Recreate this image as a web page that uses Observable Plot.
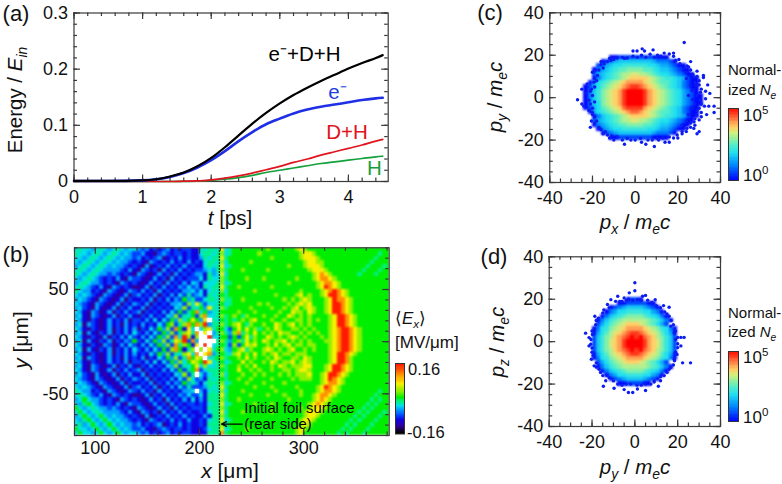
<!DOCTYPE html>
<html><head><meta charset="utf-8">
<script src="https://cdn.jsdelivr.net/npm/d3@7"></script>
<script src="https://cdn.jsdelivr.net/npm/@observablehq/plot@0.6"></script>
<style>
html,body{margin:0;padding:0;background:#fff}
#c{position:relative;width:782px;height:484px;overflow:hidden;font-family:"Liberation Sans",Arial,sans-serif;color:#111}
#c>div.p{position:absolute}
.t{position:absolute;transform:translate(-50%,-50%);white-space:nowrap;line-height:1}
.l{position:absolute;transform:translate(0,-50%);white-space:nowrap;line-height:1}
.r{transform:translate(-50%,-50%) rotate(-90deg)}
sub,sup{font-size:68%;line-height:0}
</style></head><body><div id="c"></div>
<script>
// ---------- panel (a)
const tValues = [0,0.5,1,1.2,1.4,1.6,1.8,2,2.2,2.4,2.6,2.8,3,3.2,3.4,3.6,3.8,4,4.2,4.4,4.5];
const energyAll  = [0.001,0.001,0.002,0.004,0.009,0.016,0.027,0.042,0.061,0.082,0.103,0.122,0.139,0.154,0.167,0.179,0.190,0.201,0.211,0.220,0.225];
const energyE    = [0.001,0.001,0.002,0.004,0.008,0.015,0.025,0.038,0.054,0.072,0.088,0.102,0.112,0.121,0.128,0.133,0.137,0.141,0.145,0.148,0.149];
const energyDH   = [0,0,0,0,0,0.0005,0.001,0.003,0.006,0.010,0.015,0.021,0.027,0.034,0.040,0.047,0.053,0.059,0.065,0.072,0.075];
const energyH    = [0,0,0,0,0,0.0003,0.0007,0.002,0.004,0.007,0.011,0.016,0.020,0.024,0.028,0.032,0.035,0.038,0.041,0.044,0.045];
const lineLabels = [
  {t:3.36,v:0.226,text:"e⁻+D+H",color:"#000"},
  {t:3.84,v:0.158,text:"e⁻",color:"#1f3fe0"},
  {t:3.98,v:0.087,text:"D+H",color:"#e0141e"},
  {t:4.38,v:0.023,text:"H",color:"#14a03c"}
];
// ---------- panel (b): field levels read cell by cell, 4 um cells, rows from y=88 to y=-88
const fieldLeft = [
"454434543454344 32312123121221 154554","544345434543432 23110232122121 145545","443454345434332 31212301213121 135455",
"434543454343321 21032121312131 214554","345434543433212 10301213121312 114545","454345433332131 03212031213121 223435",
"543454332321210 32101312031212 331534","434543212131032 21013120312122 241544","345433212103212 10131203121314 314445",
"454321310321210 01302131213242 315455","543312103210132 13120312121334 241454","434321032101302 31213021314252 341545",
"343210321013021 12130213132635 224554","432103210130213 21302121334274 852445","342103101302131 13021212143725 463854",
"431032013021312 30212131426256 946345","341032101302131 02131214372546 279445","431021013121302 21314142637468 638w54",
"340321013120312 13121426725796 97r355","431021013021313 02142637296184 w47846","340310213021314 21314263725785 9w8w35",
"431021030213142 13142637294r71 7wwr44","340310213021326 21426372587r29 3wwww5","431021032013142 13142637295761 8wrw45",
"340310213021314 21314262796157 w7w846","431021013021313 12142637254784 9w8935","340321013120312 13021426372596 87w456",
"431021013121302 21314142637468 76r845","341032101302131 02131214372546 847445","431032013021312 30212131426256 924555",
"342103101302131 13021212143725 w42455","432103210130213 21302121314274 231545","343210321013021 12130213132635 314555",
"434321032101302 31213021314252 223545","543312103210132 13120312121334 w31454","454321310321210 01302131213242 241555",
"346433212103212 10131203121314 131555","435643212131032 21013120312122 121455","643454332321210 32101312031212 221555",
"464345433332131 03212031213121 121455","346434643433212 10301213121312 113155","435643464343321 21032121312131 121455",
"453464346434332 31212301213121 121555","644346434643432 23110232122121 112455","464434643464344 32312123121221 111555"];
const fieldRight = [
"8456666666 6766666678 7666666666 6666666666 6","7456666667 6666666667 8876666666 6666666656 6","8566666666 6676666667 8887666666 6666666566 6",
"7466666766 6666666666 7887766666 6666665666 6","8456666666 6666667666 7888766666 6666656665 6","7566676666 6766666666 6788876666 6666566656 6",
"8466666666 6666666666 6678987666 6665666566 6","7566667666 7666666676 6678998766 6666666666 6","7456666666 6666667666 6667899876 6666666666 6",
"8566766666 6676666666 66678r9876 6666666666 6","7466666676 6666666667 6666789r98 7666666666 6","6566666666 6667666678 676678rr98 7666666666 6",
"7556676666 6666676767 8766678r99 8766666666 6","6456666667 6766667678 7866678rr9 8766666666 6","7566666766 6676676786 7876678rr9 8766666666 6",
"6666766676 6666766877 6876678rr9 8766666666 6","7567657666 7667668767 67666678rr 9876666666 6","6565676786 6676676677 67676678rr 9876666666 6",
"7567865766 7668767867 67666678rr 9876666666 6","6426868675 6768766776 767666789r r987666666 6","7537957686 7676877667 676766789r r987666666 6",
"6626268576 6876767876 766676789r r987666666 6","7536758676 8767786767 676667789r r987666666 6","6527268786 6768678677 677666789r r987666666 6",
"7436785766 7876767866 767666789r r987666666 6","6547867686 7678677677 76666678rr 9876666666 6","7566768676 6768766776 87666678rr 9766666666 6",
"6456686766 7687677867 87666678rr 9766666666 6","7566767686 6676876777 8866678rr9 8766666666 6","6566866767 6676677678 8766678rr9 8766666666 6",
"7466676676 7666767677 786678rr98 7666666666 6","6566766766 6676666767 776678r987 6666666666 6","7456667666 7666676666 6666789987 6666666666 6",
"8566666676 6676666676 66678r9876 6666666666 6","7466676666 6667666667 6667899876 6666666656 6","8566666766 6766676667 6678998766 6666666566 6",
"7566766666 6666667666 6678987666 6666665656 6","8456666676 6676666666 6789876666 6666656566 6","7566666666 6666666667 6788876666 6666565666 6",
"8466676666 6676666666 7888766666 6665656665 6","7566666666 6666666666 7887666666 6656566656 6","8456666666 6666666667 8876666666 6565666566 6",
"7566666666 6666666667 8766666666 5656665666 6","8456667666 6666666678 7666666665 6566656666 6","9566666666 6666666678 6666666656 5666566666 6"];
const fieldLevelChars = "0123456789r";
const fieldLevelValues = [-0.128,-0.102,-0.08,-0.054,-0.035,-0.019,0,0.032,0.064,0.106,0.15];
// ---------- panel (c): log-density levels 0..f, 2-unit cells, x from -24, rows from y=19 to y=-19
const gridC = [
"......00111111111000........","....012344444444322210......","...123455666666554332100....","..02345677888877654432100...",
"..13456789 9aa9987655432100..","..024 56789abbbba98766543100.",".0356789abccccba98776542100.","0135789abcdeedcba9876542100.",
"024689abceffffecba987653210.","024689abceffffecba9876532100","024689abceffffecba9876532100","024589abceffffecba9876532100",
"0135789abdeeeecba9876542100.",".0356789abcddcba98776542100.","..024 56789abbbba98766543100.","..13456789 9aa9987655432100..",
"..02345677888877654432100...","...023455666666554332100....","....012344444444322210......","......00111111110000........"];
const dotsC = [[23,26],[3.3,23],[-1,22],[0.9,22],[4.4,22],[8.4,22.5],[18,21],[26,17],[-27,-1],[-25,4],[-25,-3],[-24,-4],[-23,2],[-22.5,6.5],[-21,-14],[-20.5,-11],[-20,12],[-18.5,13],[-16,17],[-16,15.5],[-10,-20],[-5,-22],[5,-22],[9,-23],[0,-20],[14,-21],[16,-21],[18,-19],[37,-7],[35,2],[34,6],[32,9.5],[32,10.5],[37,-4],[34.5,-4],[32.5,-4],[33.5,-8],[30,-16],[29,-17],[27.5,-14.5],[30,-10.5],[28.7,-8],[30.6,-1.2],[33,-0.5],[30.6,2.6],[30,8],[29,12.5],[26,13],[24.3,15],[20.5,18],[16,20.6],[13.6,21],[10.5,20],[-3.7,18.7],[-8.4,18.7],[-11.4,17.5],[-14.5,16],[-17.6,10.5],[-19.3,7.3],[-21.7,-1.2],[-21.7,-6],[-20,-8],[-16,-15],[-13,-17.6],[-8.3,-18.4],[-3.7,-19.2],[2.5,-19.2],[10.5,-19.2],[19.7,-17.6],[24.3,-14.5],[27.6,-11.4],[30,-5],[26.7,3.4],[28.4,5.8],[27.6,9.7],[-19,-2],[-20,1],[-21,3],[-19,5],[-18,-11],[-19,-12],[-14,-16],[-11,-18],[6,-20],[13,-19],[16,-18.5],[22,-16],[26,-12],[29,-6],[28,-3],[31,-7],[29,1],[28,7],[24,12],[21,16],[18,19.5],[12,19.5],[7,20.5],[3,20],[-1,19.5],[-6,19],[-13,17],[-17,13],[-12,18.5],[-18,8],
[-20.5,4],[-21,-3],[-20,-5],[-19,9],[-15,14],[-10,18],[-5,18.5],[1,19],[5,19],[9,19],[14,19],[19,17.5],[23,14],[25,14.5],[27,11],[30,6],[31,4],[31,-3],[31,-9],[28,-10],[26,-14],[22,-17],[20,-19],[11,-20],[8,-20],[3,-21],[-2,-20],[-6,-20],[-12,-19],[-15,-17],[-17,-14],[-19,-9],[-20,-7],[24,-16],[28,-13],[33,3],[29,10],[24,9],[26,6],[25,1],[27,-1],[27,-5],[25,-8],[24,-11],[22,-13]];
// ---------- panel (d): same levels, x from -22, rows from y=21 to y=-21
const gridD = [
".........0110.........",".......001111100......",".....012344443210.....","....0235566665532 0....",
"...024567888876542 0...","..024678999999876420..","..135789abbba987531...",".025689abccccba986520.",
".03579abcdeedcba97530.",".14689bcdefefdcb98641.",".1468abceffffecba8641.",".1468abceffffecba8641.",".14689bcdefefdcb98641.",
".03579abcdeedcba97530.",".025689abccccba986520.","..135789abbba987531...","..024678999999876420..","...024567888876542 0...",
"....0235566665532 0....",".....012344443210.....",".......00111100......."];
const dotsD = [[0,27.8],[0,24],[-2.6,23],[-23,4],[26,-10],[22.3,-10],[23,2],[21.5,2],[21.5,-2],[18.4,-8.3],[19.7,-6],[-14.7,-21],[-9.7,-22],[-5,-22.6],[-3,-24],[-1,-24],[1.2,-22.3],[5,-23],[11,-21],[-13.6,-18.4],[12,-18.4],[16,12],[16,16.2],[13.4,17],[9.5,19.8],[5,21.8],[-8,21.4],[-5,20.6],[-12.8,17.5],[-18.7,12],[-18.3,8],[-20.6,-1.2],[-21.4,-2],[-19.8,3.4],[-21.4,1.9],[-20.3,-8.3],[-19,-11.4],[-16.7,-13],[-15,-16],[16.8,7.3],[18.4,4.2],[20,-2.8],[16.8,-12.2],[13.7,-16],[7.5,-20],[-2,-20],[-8,-20],[3.6,21.4],[1.2,19.8],[-11.2,19.8],[-9,19],[-14.5,15],[-17,11],[-20,5],[-20,-5],[-18,-10],[-12,-17],[-6,-20.5],[3,-20.5],[9,-18.5],[15,-14.5],[18,-11],[19,-5],[19,1],[18,8],[14,14],[10,17],[6,19.5],[-3,20],[-6,19],
[-4,19.5],[-1,19.5],[3,19.5],[8,18.5],[12,16],[15,13],[17,10],[19,5],[20,2],[20,-1],[18.5,-9],[16,-13],[12,-16.5],[9,-19],[5,-20],[1,-20.5],[-4,-20],[-10,-18.5],[-13,-16],[-16,-14.5],[-18,-12],[-19.5,-6.5],[-20,-3],[-20.5,1],[-19,6],[-18,10],[-15,13.5],[-12,16],[-7,19]];
const levelChars = "0123456789abcdef";
const levelLog10 = [0,0.5,0.9,1.3,1.6,1.85,2.1,2.4,2.7,3.0,3.3,3.6,3.95,4.3,4.6,5];
const colorbarFieldSteps = d3.range(-0.16,0.16,0.005);
const colorbarLogSteps = d3.range(0,5,0.1);

// colour maps
const fieldColor = {type:"linear",domain:[-0.16,0.16],clamp:true,interpolate:d3.scaleLinear()
  .domain([0,.1,.18,.25,.33,.39,.44,.5,.6,.7,.83,1])
  .range(["#000000","#300098","#1000e0","#0040ff","#00a0ff","#00e0e8","#00f090","#00ee00","#90f000","#f8f000","#ff9000","#ff0000"])};
const neColor = {type:"log",domain:[1,1e5],clamp:true,interpolate:d3.scaleLinear()
  .domain([0,.2,.37,.5,.56,.64,.72,.8,.88,.94,1])
  .range(["#0008ff","#0088ff","#20e0f0","#60f0c0","#90f0a0","#d0f080","#ffd068","#ff9850","#ff5830","#ff2810","#ff0000"])};

const axisCol="#3a3a3a", FS=18;
function frameMarks(o){
  const a=[];
  const [x0,x1]=o.xDom,[y0,y1]=o.yDom;
  const ux=(x1-x0)/o.w, uy=(y1-y0)/o.h;
  const sty={stroke:axisCol,strokeWidth:1.2};
  for(const [ticks,len] of [[o.xMinor,3.5],[o.xMajor,6.5]]){
    a.push(Plot.ruleX(ticks,{...sty,y1:()=>y0,y2:()=>y0+len*uy}));
    a.push(Plot.ruleX(ticks,{...sty,y1:()=>y1,y2:()=>y1-len*uy}));
  }
  for(const [ticks,len] of [[o.yMinor,3.5],[o.yMajor,6.5]]){
    a.push(Plot.ruleY(ticks,{...sty,x1:()=>x0,x2:()=>x0+len*ux}));
    a.push(Plot.ruleY(ticks,{...sty,x1:()=>x1,x2:()=>x1-len*ux}));
  }
  a.push(Plot.axisX({ticks:o.xMajor,tickSize:0,tickPadding:o.padX??9,label:null,fontSize:FS,fill:"#111",tickFormat:o.fmtX||(d=>String(d))}));
  a.push(Plot.axisY({ticks:o.yMajor,tickSize:0,tickPadding:o.padY??6,label:null,fontSize:FS,fill:"#111",tickFormat:o.fmtY||(d=>String(d))}));
  a.push(Plot.frame({stroke:axisCol,strokeWidth:1.2}));
  return a;
}
const C=document.getElementById("c");
function place(svg,l,t){const d=document.createElement("div");d.className="p";d.style.left=l+"px";d.style.top=t+"px";d.appendChild(svg);C.appendChild(d);}
const base={style:{background:"transparent",overflow:"visible",fontFamily:'"Liberation Sans",Arial,sans-serif'}};
function minor(a,b,s){return d3.range(a,b+s/2,s).map(v=>+v.toFixed(3));}

// (a)
const seriesA=[["all",energyAll,"#000",2.2],["e",energyE,"#1f2fe6",2.6],["dh",energyDH,"#e0141e",1.7],["h",energyH,"#14a03c",1.7]];
place(Plot.plot({...base,width:400,height:225,marginLeft:73.5,marginRight:12.3,marginTop:12.5,marginBottom:44,
  x:{domain:[0,4.58]},y:{domain:[0,0.3]},
  marks:[
    ...frameMarks({xDom:[0,4.58],yDom:[0,.3],w:314.2,h:168.5,xMajor:[0,1,2,3,4],xMinor:minor(0,4.4,.2),yMajor:[0,.1,.2,.3],yMinor:minor(0,.3,.02),fmtY:d=>d===0?"0":d.toFixed(1)}),
    ...seriesA.slice().reverse().map(s=>Plot.line(tValues.map((t,i)=>({t,v:s[1][i]})),{x:"t",y:"v",stroke:s[2],strokeWidth:s[3],curve:"monotone-x"})),
    Plot.text(lineLabels,{x:"t",y:"v",text:"text",fill:"color",fontSize:20.5})
  ]}),0,0);

// (b)
const rows=fieldLeft.map((s,i)=>(s+fieldRight[i]).replace(/ /g,""));
const fieldCells=rows.flatMap((s,k)=>Array.from(s,(ch,i)=>({x:80+4*i,y:88-4*k,ch})));
const fieldValued=fieldCells.filter(c=>c.ch!=="w").map(c=>({...c,v:fieldLevelValues[fieldLevelChars.indexOf(c.ch)]}));
const fieldWhite=fieldCells.filter(c=>c.ch==="w");
const rectOpts={x1:"x",x2:d=>d.x+4,y1:d=>d.y-2,y2:d=>d.y+2,clip:"frame",shapeRendering:"crispEdges"};
place(Plot.plot({...base,width:400,height:239,marginLeft:74,marginRight:11.3,marginTop:17.3,marginBottom:34,
  x:{domain:[80,382]},y:{domain:[-90,90]},color:fieldColor,
  marks:[
    Plot.rect(fieldValued,{...rectOpts,fill:"v",imageFilter:"blur(0.8px)"}),
    Plot.rect(fieldWhite,{...rectOpts,fill:"white",imageFilter:"blur(0.5px)"}),
    Plot.ruleX([219],{stroke:"#000",strokeDasharray:"1.5,1.5",strokeWidth:1.2}),
    Plot.arrow([{x1:241,x2:221,y:-79}],{x1:"x1",x2:"x2",y1:"y",y2:"y",stroke:"#000",strokeWidth:1.2,headLength:7,headAngle:50}),
    Plot.text(["Initial foil surface"],{x:[243],y:[-63.5],text:d=>d,textAnchor:"start",fontSize:14.8,fill:"#000"}),
    Plot.text(["(rear side)"],{x:[243],y:[-79],text:d=>d,textAnchor:"start",fontSize:14.8,fill:"#000"}),
    ...frameMarks({xDom:[80,382],yDom:[-90,90],w:314.7,h:187.7,xMajor:[100,200,300],xMinor:minor(80,380,20),yMajor:[-50,0,50],yMinor:minor(-90,90,10),padX:6})
  ]}),0,230);

// colour bars
function bar(steps,dz,color,yOpts,yv,l,t,h,w){
  place(Plot.plot({...base,width:w,height:h,margin:0,x:{axis:null,domain:[0,1]},y:{axis:null,...yOpts},color,
    marks:[Plot.rect(steps,{x1:()=>0,x2:()=>1,y1:yv,y2:d=>yv(d+dz),fill:yv,shapeRendering:"crispEdges"}),
           Plot.frame({stroke:"#333",strokeWidth:1})]}),l,t);
}
bar(colorbarFieldSteps,0.005,fieldColor,{domain:[-0.16,0.16]},d=>d,394.5,362.7,70.5,9);
bar(colorbarLogSteps,0.1,neColor,{type:"log",domain:[1,1e5]},e=>Math.pow(10,e),728,108,72,10);
bar(colorbarLogSteps,0.1,neColor,{type:"log",domain:[1,1e5]},e=>Math.pow(10,e),728,350.7,70,10);

// (c),(d)
function blob(grid,x0,dots,top,left){
  const g=grid.map(s=>s.replace(/ /g,""));
  const y0=g.length-1;
  const cells=g.flatMap((s,k)=>Array.from(s,(ch,i)=>({x:x0+2*i,y:y0-2*k,ch}))).filter(c=>c.ch!==".").map(c=>({...c,v:Math.pow(10,levelLog10[levelChars.indexOf(c.ch)])}));
  place(Plot.plot({...base,width:200,height:215,marginLeft:left,marginRight:0,marginTop:12.3,marginBottom:33,
    x:{domain:[-40,40]},y:{domain:[-40,40]},color:neColor,
    marks:[
      Plot.rect(cells,{x1:"x",x2:d=>d.x+2,y1:d=>d.y-1,y2:d=>d.y+1,fill:"v",shapeRendering:"crispEdges",imageFilter:"blur(1.1px)"}),
      Plot.dot(dots,{x:d=>d[0],y:d=>d[1],r:1.7,fill:"#0a1cf0"}),
      ...frameMarks({xDom:[-40,40],yDom:[-40,40],w:171,h:170,xMajor:[-40,-20,0,20,40],xMinor:minor(-40,40,5),yMajor:[-40,-20,0,20,40],yMinor:minor(-40,40,5)})
    ]}),720.3-200,top);
}
blob(gridC,-24,dotsC,0,29.3);
blob(gridD,-22,dotsD,244,28.7);

// text labels
const it=(s)=>`<i>${s}</i>`;
const labels=[
 ["t",16,14,22,"(a)"],["r",15,100,20.5,`Energy / ${it("E")}<sub>${it("in")}</sub>`],["t",230,218,20.5,`${it("t")} [ps]`],
 ["t",16,255,22,"(b)"],["r",20,340,21,`${it("y")} [μm]`],["t",230,470,21,`${it("x")} [μm]`],
 ["l",395,318,17,`⟨${it("E")}<sub>${it("x")}</sub>⟩`],["l",395,342,17,"[MV/μm]"],["l",408,369,16.5,"0.16"],["l",407,432,16.5,"-0.16"],
 ["t",490,13,22,"(c)"],["r",495,97,20.5,`${it("p")}<sub>${it("y")}</sub> / ${it("m")}<sub>${it("e")}</sub>${it("c")}`],["t",635,222,20.5,`${it("p")}<sub>${it("x")}</sub> / ${it("m")}<sub>${it("e")}</sub>${it("c")}`],
 ["l",728,69,15,"Normal-"],["l",728,89,15,`ized ${it("N")}<sub>${it("e")}</sub>`],["l",743,115,17,"10<sup>5</sup>"],["l",743,175,17,"10<sup>0</sup>"],
 ["t",494,257,22,"(d)"],["r",497,342,20.5,`${it("p")}<sub>${it("z")}</sub> / ${it("m")}<sub>${it("e")}</sub>${it("c")}`],["t",635,467,20.5,`${it("p")}<sub>${it("y")}</sub> / ${it("m")}<sub>${it("e")}</sub>${it("c")}`],
 ["l",728,312,15,"Normal-"],["l",728,331,15,`ized ${it("N")}<sub>${it("e")}</sub>`],["l",743,357,17,"10<sup>5</sup>"],["l",743,417,17,"10<sup>0</sup>"]
];
for(const [k,x,y,fs,h] of labels){
  const d=document.createElement("div");
  d.className=k==="l"?"l":(k==="r"?"t r":"t");
  d.style.left=x+"px";d.style.top=y+"px";d.style.fontSize=fs+"px";d.innerHTML=h;C.appendChild(d);
}
</script></body></html>
